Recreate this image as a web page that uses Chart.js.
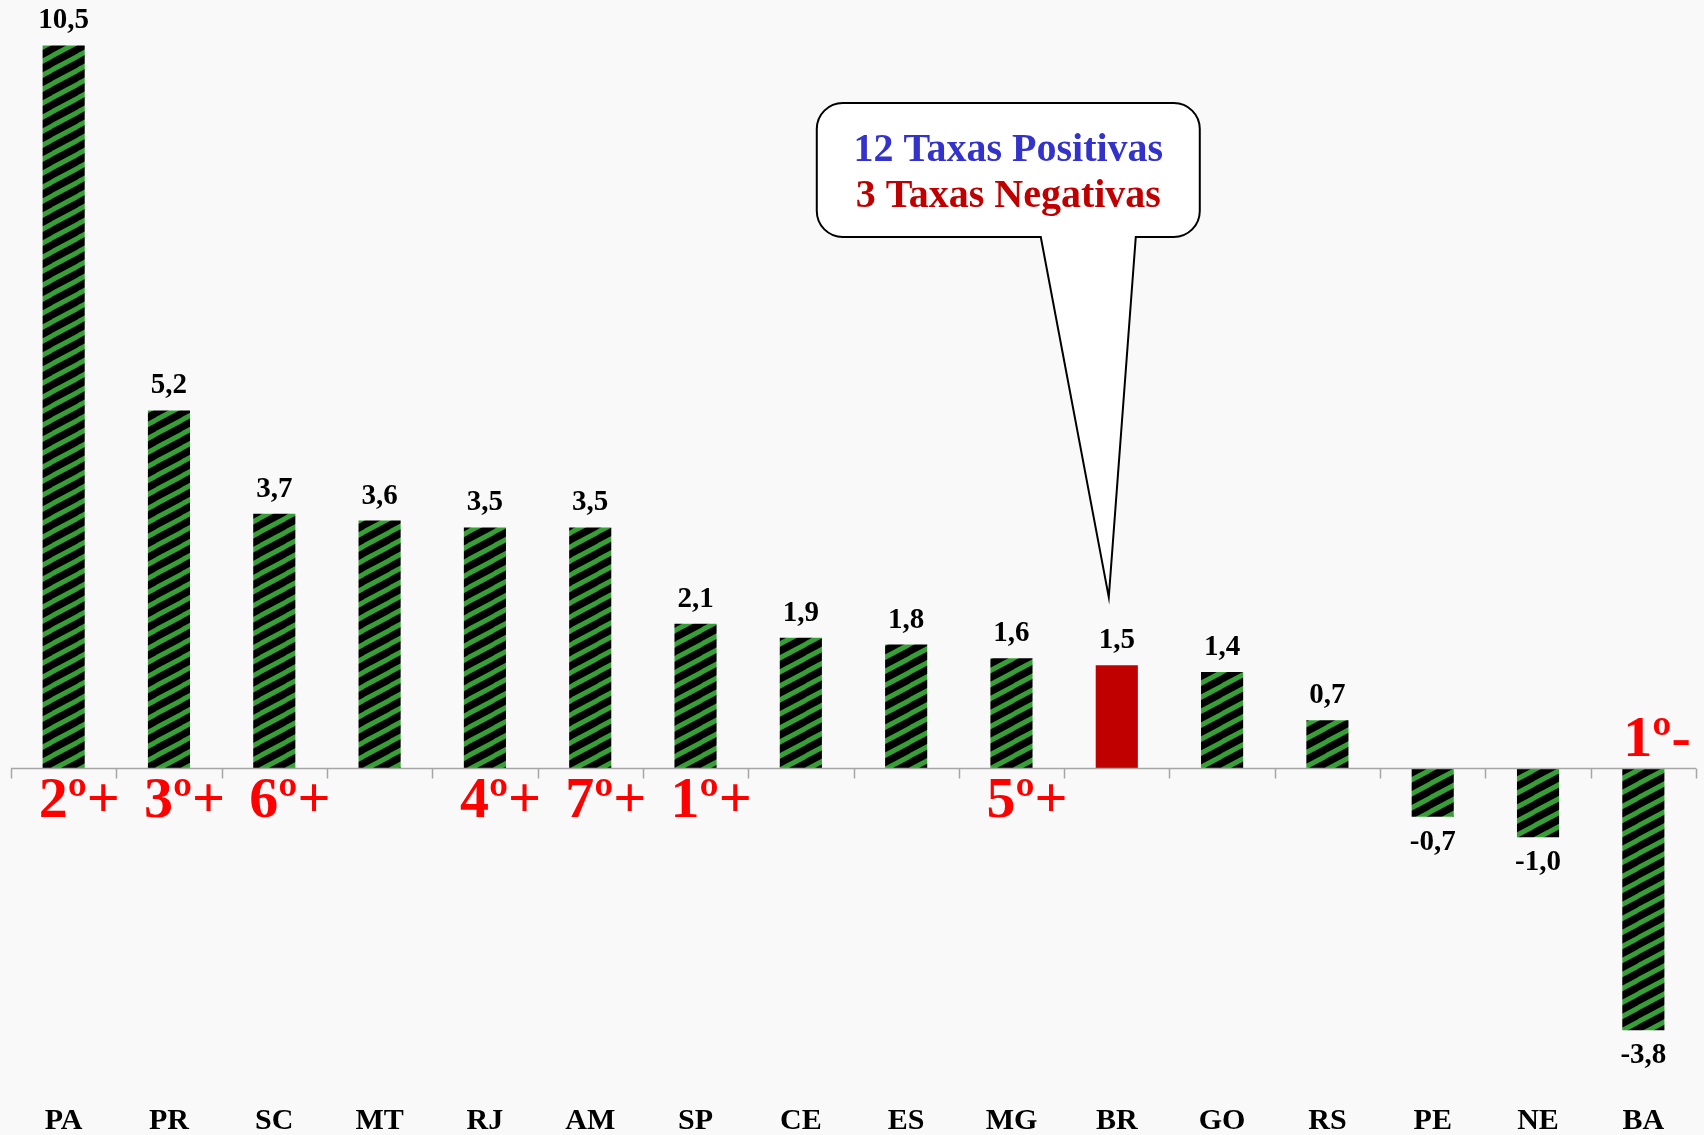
<!DOCTYPE html>
<html>
<head>
<meta charset="utf-8">
<script src="https://cdn.jsdelivr.net/npm/chart.js@4.4.0/dist/chart.umd.min.js"></script>
<style>
  html, body { margin: 0; padding: 0; background: #f9f9f9; }
  canvas { display: block; }
</style>
</head>
<body>
<canvas id="taxasChart" width="1704" height="1135"></canvas>
<script>
const categories = ['PA', 'PR', 'SC', 'MT', 'RJ', 'AM', 'SP', 'CE', 'ES', 'MG', 'BR', 'GO', 'RS', 'PE', 'NE', 'BA'];
const values = [10.5, 5.2, 3.7, 3.6, 3.5, 3.5, 2.1, 1.9, 1.8, 1.6, 1.5, 1.4, 0.7, -0.7, -1.0, -3.8];
const ranks = ['2º+', '3º+', '6º+', '', '4º+', '7º+', '1º+', '', '', '5º+', '', '', '', '', '', '1º-'];
const calloutLines = ['12 Taxas Positivas', '3 Taxas Negativas'];
const calloutColors = ['#3333cc', '#c00000'];
const highlight = 'BR';

const serif = '"Liberation Serif", "Times New Roman", serif';

// green / black diagonal hatch like the excel pattern fill
function makeHatch() {
    const c = document.createElement('canvas');
    c.width = 26;
    c.height = 14;
    const g = c.getContext('2d');
    g.fillStyle = '#000000';
    g.fillRect(0, 0, 26, 14);
    g.strokeStyle = '#36a036';
    g.lineWidth = 5;
    for (let k = -1; k <= 1; k++) {
        g.beginPath();
        g.moveTo(-4, 14 + 14 * k + 2);
        g.lineTo(30, 14 * k - 2);
        g.stroke();
    }
    return g.createPattern(c, 'repeat');
}

const hatch = makeHatch();
const barColors = categories.map(c => c === highlight ? '#c00000' : hatch);

const fmt = v => v.toFixed(1).replace('.', ',');

const overlay = {
    id: 'overlay',
    afterDatasetsDraw(chart) {
        const ctx = chart.ctx;
        const x = chart.scales.x;
        const y = chart.scales.y;
        const area = chart.chartArea;
        const y0 = y.getPixelForValue(0);
        const step = x.getPixelForValue(1) - x.getPixelForValue(0);
        const bars = chart.getDatasetMeta(0).data;

        ctx.save();
        // zero line with ticks between categories
        ctx.strokeStyle = '#a6a6a6';
        ctx.lineWidth = 1.5;
        ctx.beginPath();
        ctx.moveTo(area.left, y0);
        ctx.lineTo(area.right, y0);
        for (let i = 0; i <= categories.length; i++) {
            const tx = Math.round(x.getPixelForValue(0) - step / 2 + i * step) + 0.5;
            ctx.moveTo(tx, y0);
            ctx.lineTo(tx, y0 + 10);
        }
        ctx.stroke();

        // value labels
        ctx.fillStyle = '#000';
        ctx.font = 'bold 29px ' + serif;
        ctx.textAlign = 'center';
        ctx.textBaseline = 'alphabetic';
        bars.forEach((b, i) => {
            const v = values[i];
            if (v >= 0) ctx.fillText(fmt(v), b.x, b.y - 17);
            else ctx.fillText(fmt(v), b.x, b.y + 33);
        });

        // ranking marks
        ctx.fillStyle = '#ff0000';
        ctx.font = 'bold 58px ' + serif;
        ctx.textAlign = 'left';
        ranks.forEach((r, i) => {
            if (!r) return;
            const cx = x.getPixelForValue(i);
            if (r.endsWith('-')) ctx.fillText(r, cx - 20, y0 - 12);
            else ctx.fillText(r, cx - 25, y0 + 49);
        });

        // callout pointing at the highlighted bar
        const hi = categories.indexOf(highlight);
        const cx = x.getPixelForValue(hi);
        const tipY = y.getPixelForValue(values[hi]) - 68;
        const L = cx - 300, R = cx + 83, T = 103, B = 237, rad = 26;
        ctx.beginPath();
        ctx.moveTo(L + rad, T);
        ctx.lineTo(R - rad, T);
        ctx.arcTo(R, T, R, T + rad, rad);
        ctx.lineTo(R, B - rad);
        ctx.arcTo(R, B, R - rad, B, rad);
        ctx.lineTo(cx + 19, B);
        ctx.lineTo(cx - 8, tipY);
        ctx.lineTo(cx - 76, B);
        ctx.lineTo(L + rad, B);
        ctx.arcTo(L, B, L, B - rad, rad);
        ctx.lineTo(L, T + rad);
        ctx.arcTo(L, T, L + rad, T, rad);
        ctx.closePath();
        ctx.fillStyle = '#ffffff';
        ctx.fill();
        ctx.strokeStyle = '#000';
        ctx.lineWidth = 2;
        ctx.stroke();

        ctx.font = 'bold 40px ' + serif;
        ctx.textAlign = 'center';
        ctx.textBaseline = 'middle';
        calloutLines.forEach((t, i) => {
            ctx.fillStyle = calloutColors[i];
            ctx.fillText(t, (L + R) / 2, 151 + i * 46);
        });
        ctx.restore();
    }
};

new Chart(document.getElementById('taxasChart'), {
    type: 'bar',
    data: {
        labels: categories,
        datasets: [{
            data: values,
            backgroundColor: barColors,
            borderWidth: 0,
            barPercentage: 0.4,
            categoryPercentage: 1.0
        }]
    },
    options: {
        responsive: false,
        animation: false,
        layout: { padding: { left: 11, right: 8, top: 0, bottom: 0 } },
        plugins: {
            legend: { display: false },
            tooltip: { enabled: false }
        },
        scales: {
            x: {
                grid: { display: false },
                border: { display: false },
                ticks: {
                    color: '#000',
                    padding: 6,
                    font: { family: serif, size: 30, weight: 'bold', lineHeight: '16px' }
                }
            },
            y: {
                display: false,
                min: -4.8,
                max: 11.16
            }
        }
    },
    plugins: [overlay]
});
</script>
</body>
</html>
